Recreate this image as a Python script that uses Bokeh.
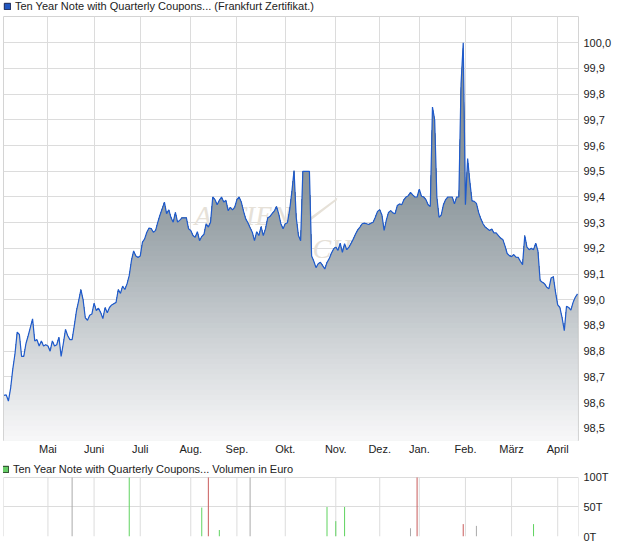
import numpy as np
from bokeh.plotting import figure
from bokeh.models import (Range1d, FixedTicker, CustomJSTickFormatter, Legend, LegendItem,
                          Label, PolyAnnotation, ColumnDataSource)
from bokeh.layouts import column
from bokeh.embed import file_html
from bokeh.resources import INLINE

# ---------------- data ----------------
series_name = "Ten Year Note with Quarterly Coupons..."
exchange_name = "(Frankfurt Zertifikat.)"
volume_name = "Volumen in Euro"

price = [
    98.628, 98.63, 98.606, 98.655, 98.73, 98.79, 98.874, 98.865, 98.78, 98.78,
    98.83, 98.86, 98.893, 98.926, 98.84, 98.845, 98.82, 98.84, 98.82, 98.825,
    98.82, 98.80, 98.84, 98.82, 98.825, 98.855, 98.78, 98.83, 98.885, 98.86,
    98.845, 98.845, 98.90, 98.958, 98.997, 99.04, 99.0, 98.93, 98.92, 98.94,
    98.945, 98.987, 98.958, 98.967, 98.95, 98.927, 98.97, 98.95, 98.97, 98.98,
    98.985, 98.99, 99.04, 99.025, 99.053, 99.04, 99.062, 99.095, 99.153, 99.19,
    99.17, 99.165, 99.17, 99.224, 99.237, 99.263, 99.279, 99.277, 99.263, 99.27,
    99.302, 99.33, 99.354, 99.38, 99.335, 99.35, 99.32, 99.302, 99.34, 99.302,
    99.31, 99.319, 99.319, 99.319, 99.276, 99.27, 99.25, 99.243, 99.265, 99.23,
    99.246, 99.255, 99.296, 99.283, 99.302, 99.40, 99.39, 99.37, 99.387, 99.40,
    99.38, 99.387, 99.347, 99.36, 99.35, 99.36, 99.39, 99.40, 99.38, 99.345,
    99.315, 99.30, 99.28, 99.263, 99.23, 99.265, 99.25, 99.285, 99.25, 99.276,
    99.318, 99.324, 99.335, 99.345, 99.363, 99.335, 99.296, 99.276, 99.296, 99.30,
    99.35, 99.42, 99.503, 99.32, 99.25, 99.23, 99.50, 99.50, 99.50, 99.50,
    99.17, 99.15, 99.125, 99.14, 99.146, 99.133, 99.12, 99.145, 99.16, 99.181,
    99.198, 99.205, 99.192, 99.22, 99.185, 99.218, 99.195, 99.205, 99.22, 99.237,
    99.256, 99.272, 99.283, 99.296, 99.298, 99.296, 99.293, 99.298, 99.302, 99.321,
    99.344, 99.35, 99.33, 99.27, 99.31, 99.34, 99.347, 99.338, 99.335, 99.367,
    99.373, 99.37, 99.389, 99.40, 99.405, 99.418, 99.408, 99.40, 99.40, 99.43,
    99.403, 99.40, 99.39, 99.37, 99.363, 99.75, 99.70, 99.40, 99.321, 99.33,
    99.37, 99.39, 99.40, 99.40, 99.40, 99.373, 99.40, 99.40, 99.84, 100.0,
    99.37, 99.55, 99.46, 99.385, 99.383, 99.375, 99.34, 99.315, 99.296, 99.283,
    99.276, 99.27, 99.275, 99.26, 99.26, 99.25, 99.24, 99.235, 99.21, 99.18,
    99.172, 99.168, 99.176, 99.166, 99.165, 99.15, 99.137, 99.25, 99.205, 99.195,
    99.20, 99.195, 99.22, 99.19, 99.075, 99.068, 99.062, 99.049, 99.043, 99.085,
    99.09, 99.03, 98.98, 98.97, 98.93, 98.88, 98.975, 98.97, 98.96, 98.99,
    99.01, 99.023,
]

month_labels = ["Mai", "Juni", "Juli", "Aug.", "Sep.", "Okt.", "Nov.", "Dez.",
                "Jan.", "Feb.", "März", "April"]
month_start_day = [20, 41, 62, 85, 106, 128, 151, 171, 189, 210, 231, 252]

price_ticks = [98.5, 98.6, 98.7, 98.8, 98.9, 99.0, 99.1, 99.2, 99.3, 99.4,
               99.5, 99.6, 99.7, 99.8, 99.9, 100.0]
volume_ticks = [0, 50, 100]

# volume (thousand EUR) on the days that traded
vol_day = [31, 57, 90, 93, 98, 112, 147, 151, 155, 185, 188, 209, 215, 241]
vol_amount = [130, 140, 49, 125, 11, 120, 50, 26, 50, 14, 135, 21, 18, 21]
vol_move = ["flat", "up", "up", "down", "up", "flat", "up", "up", "up", "flat",
            "down", "down", "flat", "up"]

# ---------------- styles / layout ----------------
FONT = "Liberation Sans"
TXT = "#222222"
GRID = "#dcdcdc"
OUTLINE = "#d4d4d4"
LINE_BLUE = "#1f5bcc"
MOVE_COLOR = {"up": "#5fd35f", "down": "#c95b5b", "flat": "#aaaaaa"}
WIDTH = 620
BORDER_L, BORDER_R = 3, 42
HEAD_H = 16
MAIN_FRAME, MAIN_BOTTOM = 424, 18
VOL_FRAME, VOL_BOTTOM = 78, 10          # volume frame incl. its caption row
VOL_TOP_VALUE = 132.2                   # range top so that 100T sits 19px below frame top

# vertical gradient of the area (value -> rgb)
grad_at = [98.45, 98.814, 99.141, 99.425, 100.11]
grad_rgb = [(248, 248, 249), (210, 214, 217), (170, 178, 183), (142, 152, 157), (128, 138, 144)]


def grad_color(v):
    r = np.interp(v, grad_at, [c[0] for c in grad_rgb])
    g = np.interp(v, grad_at, [c[1] for c in grad_rgb])
    b = np.interp(v, grad_at, [c[2] for c in grad_rgb])
    return "#%02x%02x%02x" % (int(round(r)), int(round(g)), int(round(b)))


def make_legend(fig, text, fill, line, where):
    sw = fig.quad(left=[np.nan], right=[np.nan], top=[np.nan], bottom=[np.nan],
                  fill_color=fill, line_color=line, line_width=1)
    leg = Legend(items=[LegendItem(label=text, renderers=[sw])],
                 location=where, orientation="horizontal", margin=0, padding=1,
                 glyph_width=8, glyph_height=8, label_height=8, label_standoff=4,
                 label_text_font=FONT, label_text_font_size="11px", label_text_color=TXT,
                 border_line_color=None, background_fill_alpha=0)
    fig.add_layout(leg)


def style_axis(ax, standoff):
    ax.axis_line_color = None
    ax.major_tick_line_color = None
    ax.minor_tick_line_color = None
    ax.major_tick_out = 0
    ax.major_tick_in = 0
    ax.minor_tick_out = 0
    ax.minor_tick_in = 0
    ax.major_label_text_font = FONT
    ax.major_label_text_font_size = "11px"
    ax.major_label_text_color = TXT
    ax.major_label_standoff = standoff


day = np.arange(len(price))
price_arr = np.array(price)
x_rng = Range1d(-0.23, 261.46)

# ---------------- caption row of the main chart ----------------
head1 = figure(width=WIDTH, height=HEAD_H, output_backend="svg", toolbar_location=None,
               x_range=Range1d(0, 1), y_range=Range1d(0, 1),
               min_border_left=BORDER_L - 2, min_border_right=0, min_border_top=0,
               min_border_bottom=0, x_axis_location=None, y_axis_location=None)
head1.grid.visible = False
head1.outline_line_color = None
make_legend(head1, series_name + " " + exchange_name, "#2157c2", "#1a2550", "top_left")

# ---------------- main chart ----------------
p1 = figure(width=WIDTH, height=MAIN_FRAME + MAIN_BOTTOM,
            output_backend="svg", toolbar_location=None,
            x_range=x_rng, y_range=Range1d(98.4525, 100.1023),
            y_axis_location="right",
            min_border_left=BORDER_L, min_border_right=BORDER_R,
            min_border_top=0, min_border_bottom=MAIN_BOTTOM)
p1.background_fill_color = "white"
p1.border_fill_color = "white"
p1.outline_line_color = OUTLINE

p1.xgrid.ticker = FixedTicker(ticks=month_start_day)
p1.ygrid.ticker = FixedTicker(ticks=price_ticks)
for g in (p1.xgrid, p1.ygrid):
    g.grid_line_color = GRID
    g.grid_line_width = 1

# faint watermark (screen units from the frame's bottom-left)
WM = "#e6e1d8"
p1.add_layout(Label(x=191, y=225, x_units="screen", y_units="screen", text="AKTIEN",
                    text_font="Liberation Sans Narrow", text_font_style="italic",
                    text_font_size="28px", text_color=WM, text_baseline="alphabetic",
                    level="underlay"))
p1.add_layout(Label(x=309, y=192, x_units="screen", y_units="screen", text="CHECK",
                    text_font="Liberation Sans Narrow", text_font_style="italic",
                    text_font_size="28px", text_color=WM, text_baseline="alphabetic",
                    level="underlay"))
p1.add_layout(PolyAnnotation(xs=[297, 334, 333, 302], ys=[216, 243, 240, 216],
                             xs_units="screen", ys_units="screen",
                             fill_color=WM, fill_alpha=1, line_color=None,
                             level="underlay"))

# area with vertical gradient: overlapping bands, tallest (darkest) first
base = np.full(len(price), 98.0)
caps = np.arange(100.11, 98.44, -0.02)
for cap in caps:
    p1.varea(x=day, y1=base, y2=np.minimum(price_arr, cap),
             fill_color=grad_color(cap - 0.01))

p1.line(day, price_arr, line_color=LINE_BLUE, line_width=1.2)

ya = p1.yaxis[0]
ya.ticker = FixedTicker(ticks=price_ticks)
ya.formatter = CustomJSTickFormatter(code="return tick.toFixed(1).replace('.', ',');")
style_axis(ya, 5)
xa = p1.xaxis[0]
xa.ticker = FixedTicker(ticks=month_start_day)
xa.major_label_overrides = {d: m for d, m in zip(month_start_day, month_labels)}
style_axis(xa, 2)

# ---------------- volume chart (caption row lives inside the upper frame part) ----------------
p2 = figure(width=WIDTH, height=VOL_FRAME + VOL_BOTTOM,
            output_backend="svg", toolbar_location=None,
            x_range=x_rng, y_range=Range1d(0, VOL_TOP_VALUE), y_axis_location="right",
            min_border_left=BORDER_L, min_border_right=BORDER_R,
            min_border_top=0, min_border_bottom=VOL_BOTTOM)
p2.background_fill_color = "white"
p2.border_fill_color = "white"
p2.outline_line_color = None
p2.xaxis.visible = False
p2.xgrid.visible = False
p2.ygrid.ticker = FixedTicker(ticks=volume_ticks)
p2.ygrid.grid_line_color = GRID

vol_lo, vol_hi = volume_ticks[0], volume_ticks[-1]
# month lines and the box edges of the volume panel
p2.segment(x0=month_start_day, y0=vol_lo, x1=month_start_day, y1=vol_hi,
           line_color=GRID, line_width=1)
p2.segment(x0=[x_rng.start, x_rng.end], y0=vol_lo, x1=[x_rng.start, x_rng.end], y1=vol_hi,
           line_color=OUTLINE, line_width=1)

vsrc = ColumnDataSource(dict(day=vol_day, amount=np.minimum(vol_amount, vol_hi),
                             zero=[vol_lo] * len(vol_day),
                             color=[MOVE_COLOR[m] for m in vol_move]))
p2.segment(x0="day", y0="zero", x1="day", y1="amount", line_color="color",
           line_width=1, source=vsrc)

make_legend(p2, series_name + " " + volume_name, "#66cc66", "#1f3a1f", (-2, 61))

ya2 = p2.yaxis[0]
ya2.ticker = FixedTicker(ticks=volume_ticks)
ya2.formatter = CustomJSTickFormatter(code="return tick.toFixed(0) + 'T';")
style_axis(ya2, 5)

layout = column(head1, p1, p2, spacing=0)
open("out.html", "w").write(file_html(layout, INLINE))
